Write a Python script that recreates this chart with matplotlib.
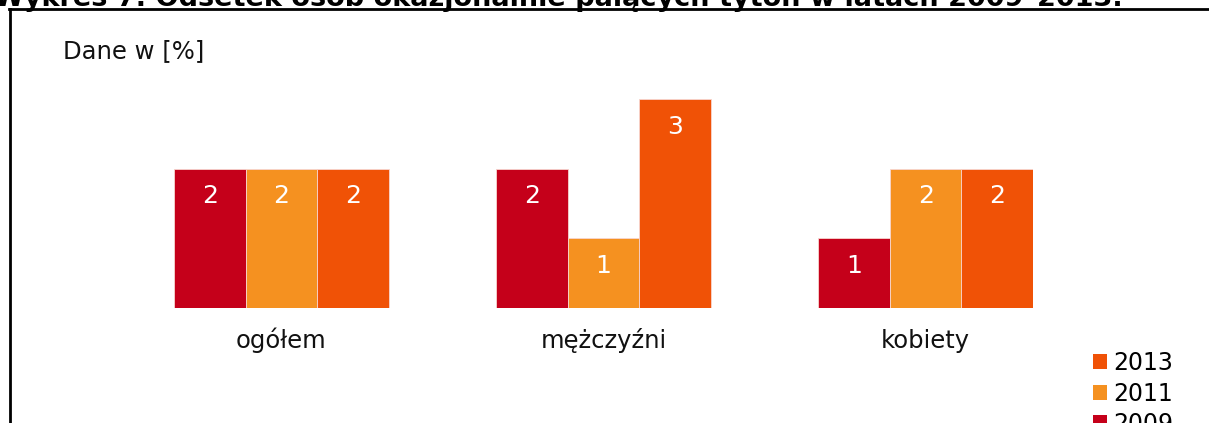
import numpy as np
import matplotlib
matplotlib.use("Agg")
import matplotlib.pyplot as plt
from matplotlib.lines import Line2D
from matplotlib.patches import Patch

# data
categories = ["ogółem", "mężczyźni", "kobiety"]
years = ["2009", "2011", "2013"]
v2009 = [2, 2, 1]
v2011 = [2, 1, 2]
v2013 = [2, 3, 2]
colors = ["#C5001A", "#F59120", "#F05206"]

title = "Wykres 7. Odsetek osób okazjonalnie palących tytoń w latach 2009–2013."
unit_label = "Dane w [%]"

W, H = 1209, 423
fig = plt.figure(figsize=(W / 100, H / 100), dpi=100)
fig.patch.set_facecolor("white")

# axes placed so the bars land where they are in the reference
ax = fig.add_axes([174 / W, (H - 308) / H, 859 / W, 209 / H])
ax.set_xlim(-1.5, 10.5)
ax.set_ylim(0, 3)
ax.axis("off")

centers = np.arange(len(categories)) * 4.5
series = [v2009, v2011, v2013]
for i, (vals, col, yr) in enumerate(zip(series, colors, years)):
    xs = centers + (i - 1)
    bars = ax.bar(xs, vals, width=1.0, color=col, edgecolor="#f7d6d0",
                  linewidth=0.6, label=yr)
    for x, v in zip(xs, vals):
        ax.annotate(str(v), xy=(x, v), xytext=(0, -20), textcoords="offset points",
                    ha="center", va="center", color="white", fontsize=18)

for x, c in zip(centers, categories):
    ax.annotate(c, xy=(x, 0), xytext=(0, -23.5), textcoords="offset points",
                ha="center", va="center", fontsize=17.5, color="#111111")

handles = [Patch(facecolor=c, edgecolor="none") for c in colors][::-1]
fig.legend(handles, years[::-1], loc="upper left",
           bbox_to_anchor=(1093 / W, (H - 351) / H), frameon=False,
           fontsize=17, handlelength=0.6, handleheight=0.6,
           handletextpad=0.25, labelspacing=0.28, borderpad=0, borderaxespad=0)

fig.text(63 / W, (H - 51) / H, unit_label, fontsize=17.5, va="center",
         ha="left", color="#111111")

# title cut off at the top edge, like in the source image
fig.text(-6 / W, (H - 6) / H, title, fontsize=19.5, fontweight="bold",
         va="baseline", ha="left", color="black")

# frame lines
fig.add_artist(Line2D([9 / W, 1.0], [(H - 9) / H, (H - 9) / H],
                      transform=fig.transFigure, color="black", lw=2))
fig.add_artist(Line2D([10 / W, 10 / W], [0, (H - 9) / H],
                      transform=fig.transFigure, color="black", lw=2))

fig.savefig("out.png", dpi=100)
